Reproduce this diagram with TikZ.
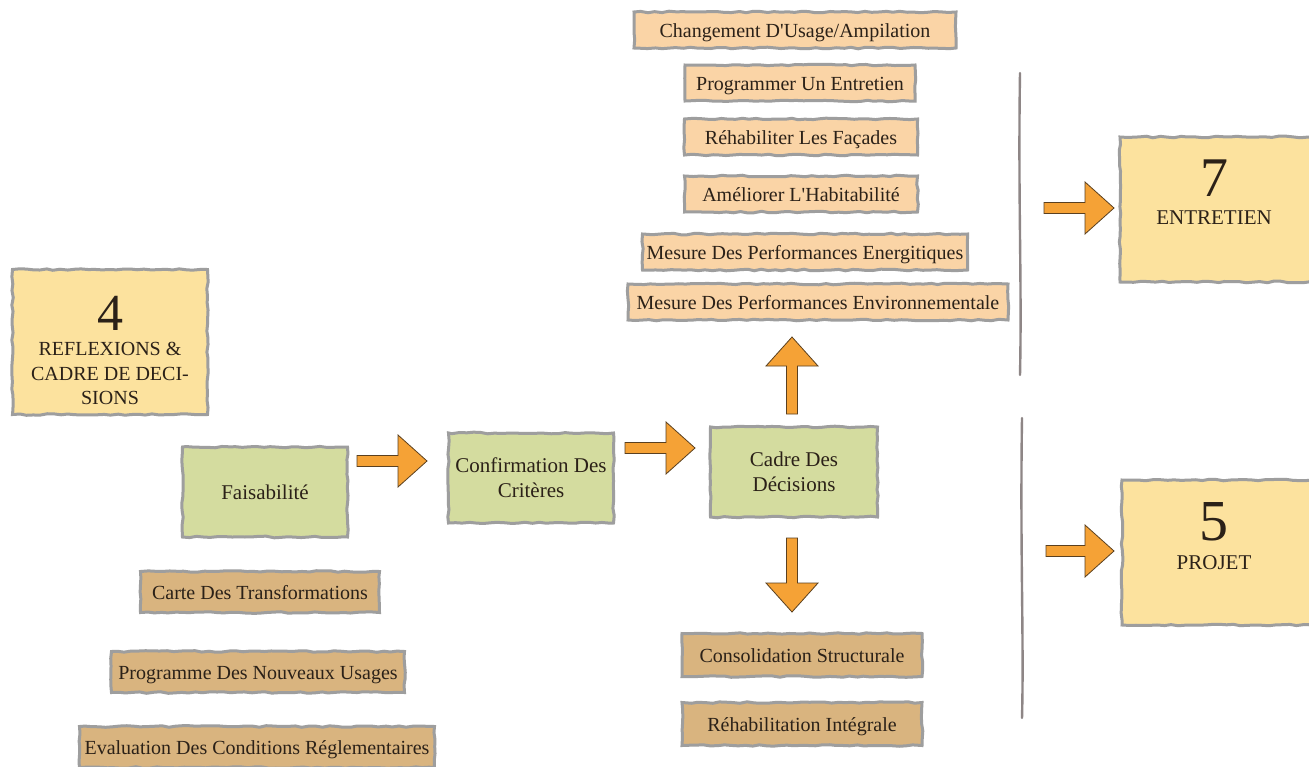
\documentclass[tikz,border=0pt]{standalone}
\usepackage{fontspec}
\setmainfont{Liberation Serif}
\usetikzlibrary{decorations.pathmorphing}

\definecolor{peach}{HTML}{FAD4A6}
\definecolor{tanbox}{HTML}{D9B47F}
\definecolor{sage}{HTML}{D4DC9F}
\definecolor{sand}{HTML}{FCE29E}
\definecolor{edge}{HTML}{9E9E9E}
\definecolor{arrowfill}{HTML}{F5A236}
\definecolor{arrowedge}{HTML}{5A4020}
\definecolor{ink}{HTML}{2B2118}
\definecolor{rule}{HTML}{8E8686}

\tikzset{
  rough/.style={decorate, decoration={random steps, segment length=7pt, amplitude=0.8pt}},
  card/.style={rectangle, draw=edge, line width=3pt, rough, text=ink, inner sep=0pt, align=center},
  oneline/.style={text height=15.5pt, text depth=0pt},
  peachcard/.style={card, oneline, fill=peach, minimum height=36pt, font=\fontsize{20}{24}\selectfont},
  tancard/.style={card, oneline, fill=tanbox, minimum height=41pt, font=\fontsize{20}{24}\selectfont},
  sagecard/.style={card, fill=sage, minimum width=165pt, minimum height=90pt, font=\fontsize{21}{25}\selectfont},
  sandcard/.style={card, fill=sand, minimum height=145pt},
  digit/.style={text=ink, inner sep=0pt, anchor=base, font=\fontsize{52}{52}\selectfont},
  caption/.style={text=ink, inner sep=0pt, anchor=base, font=\fontsize{20}{24}\selectfont},
  arrowsty/.style={fill=arrowfill, draw=arrowedge, line width=0.8pt, line join=miter},
  pics/barrow/.style={code={
    \draw[arrowsty] (0,-5.5) -- ({#1-29},-5.5) -- ({#1-29},-26) -- (#1,0)
      -- ({#1-29},26) -- ({#1-29},5.5) -- (0,5.5) -- cycle;}},
  sepline/.style={draw=rule, line width=2.4pt, line cap=round}
}

\begin{document}
\begin{tikzpicture}[x=1pt, y=-1pt]
\pgfmathsetseed{4217}
\useasboundingbox (0,0) rectangle (1309,766);
\clip (0,0) rectangle (1309,766);
\fill[white] (0,0) rectangle (1309,766);

% phase 4
\node[sandcard, minimum width=195pt] (p4) at (110,342) {};
\node[digit] (p4n) at (110,330) {4};
\node[caption] (p4a) at (110,355) {REFLEXIONS \&};
\node[caption] (p4b) at (110,380) {CADRE DE DECI-};
\node[caption] (p4c) at (110,404) {SIONS};

% phase 7
\node[sandcard, minimum width=194pt] (p7) at (1217,209.5) {};
\node[digit, font=\fontsize{56}{56}\selectfont] (p7n) at (1214,196) {7};
\node[caption, font=\fontsize{21}{25}\selectfont] (p7a) at (1214,224) {ENTRETIEN};

% phase 5
\node[sandcard, minimum width=192pt] (p5) at (1218,552.5) {};
\node[digit, font=\fontsize{58}{58}\selectfont] (p5n) at (1214,540) {5};
\node[caption, font=\fontsize{21}{25}\selectfont] (p5a) at (1214,569) {PROJET};

% decision chain
\node[sagecard] (fais) at (265,492) {Faisabilité};
\node[sagecard] (conf) at (531,478) {Confirmation Des\\Critères};
\node[sagecard, minimum width=167pt] (cadre) at (794,472) {Cadre Des\\Décisions};

% maintenance actions
\node[peachcard, minimum width=322pt] (chg)   at (795,30)  {Changement D\textquotesingle Usage/Ampilation};
\node[peachcard, minimum width=230pt] (prog)  at (800,83)  {Programmer Un Entretien};
\node[peachcard, minimum width=233pt] (rehab) at (801,137) {Réhabiliter Les Façades};
\node[peachcard, minimum width=233pt] (amel)  at (801,194) {Améliorer L\textquotesingle Habitabilité};
\node[peachcard, minimum width=325pt] (mperf) at (805,252) {Mesure Des Performances Energitiques};
\node[peachcard, minimum width=380pt] (menv)  at (818,302) {Mesure Des Performances Environnementale};

% feasibility studies
\node[tancard, minimum width=239pt] (carte) at (260,592) {Carte Des Transformations};
\node[tancard, minimum width=293pt] (progu) at (258,672) {Programme Des Nouveaux Usages};
\node[tancard, minimum width=355pt] (eval)  at (257,747) {Evaluation Des Conditions Réglementaires};

% project actions
\node[tancard, minimum width=240pt, minimum height=43pt] (conso)  at (802,655) {Consolidation Structurale};
\node[tancard, minimum width=240pt, minimum height=43pt] (rehint) at (802,724) {Réhabilitation Intégrale};

% block arrows
\pic (a1) at (357,461) {barrow=70};
\pic (a2) at (625,448) {barrow=70};
\pic[rotate=90] (aup) at (792,414) {barrow=77};
\pic[rotate=-90] (adn) at (792,538) {barrow=74};
\pic (a7) at (1044,208) {barrow=70};
\pic (a5) at (1046,551) {barrow=68};

% separators
\draw[sepline] (1020,73) .. controls (1018,200) and (1022,280) .. (1020,375);
\draw[sepline] (1022,418) .. controls (1020,550) and (1024,640) .. (1022,718);
\end{tikzpicture}
\end{document}
